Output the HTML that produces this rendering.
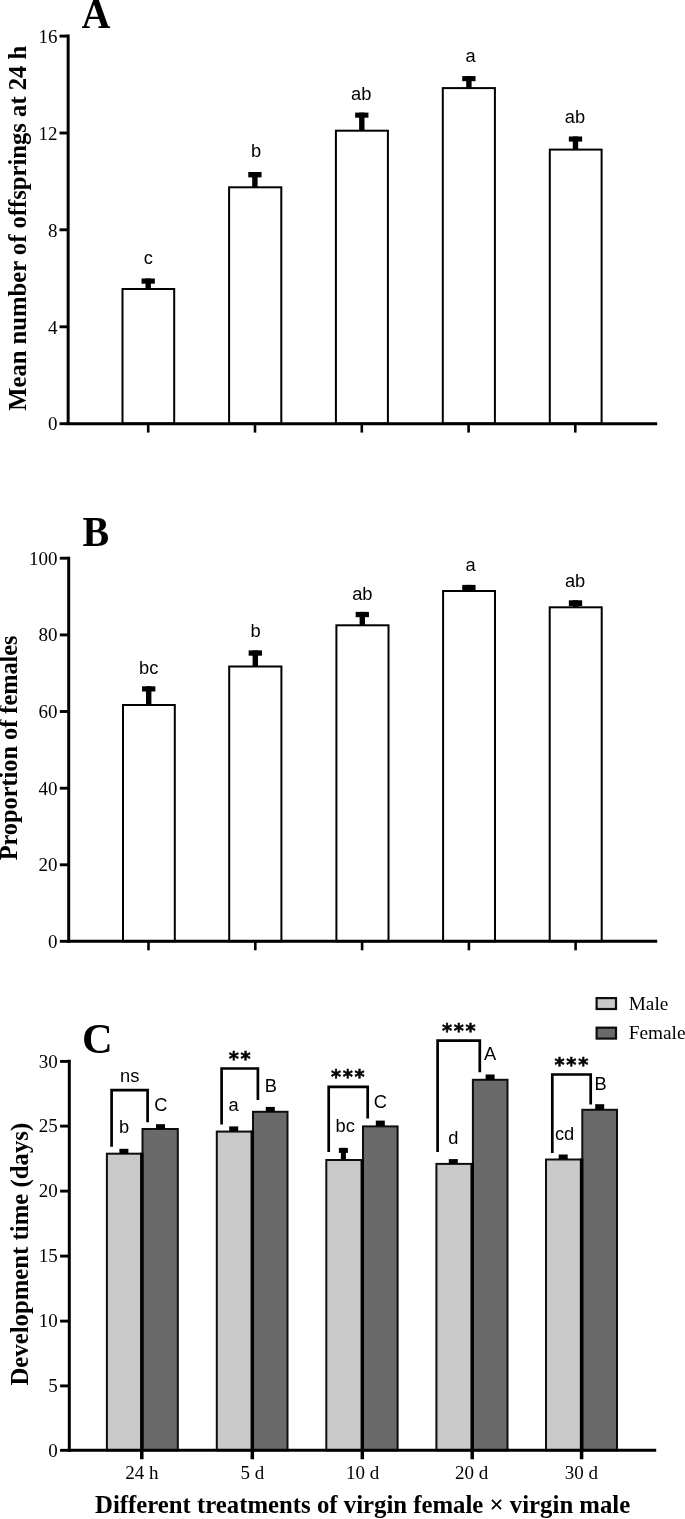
<!DOCTYPE html>
<html lang="en">
<head>
<meta charset="utf-8">
<title>Figure</title>
<style>
html,body{margin:0;padding:0;background:#fff;}
body{width:685px;height:1519px;overflow:hidden;}
svg{display:block;}
</style>
</head>
<body>
<svg width="685" height="1519" viewBox="0 0 685 1519">
<rect x="0" y="0" width="685" height="1519" fill="#ffffff"/>
<defs><filter id="soft" x="0" y="0" width="685" height="1519" filterUnits="userSpaceOnUse"><feGaussianBlur stdDeviation="0.4"/></filter></defs>
<g filter="url(#soft)">
<rect x="122.50" y="289.00" width="51.70" height="134.50" fill="#fff" stroke="#000" stroke-width="2"/>
<rect x="229.10" y="187.30" width="52.20" height="236.20" fill="#fff" stroke="#000" stroke-width="2"/>
<rect x="335.90" y="130.70" width="52.00" height="292.80" fill="#fff" stroke="#000" stroke-width="2"/>
<rect x="442.80" y="88.10" width="52.10" height="335.40" fill="#fff" stroke="#000" stroke-width="2"/>
<rect x="549.80" y="149.60" width="51.80" height="273.90" fill="#fff" stroke="#000" stroke-width="2"/>
<rect x="141.55" y="278.50" width="13.30" height="5.20" fill="#000"/>
<rect x="145.50" y="278.50" width="5.40" height="10.50" fill="#000"/>
<rect x="248.25" y="172.00" width="13.30" height="5.40" fill="#000"/>
<rect x="252.20" y="172.00" width="5.40" height="15.30" fill="#000"/>
<rect x="355.15" y="112.60" width="13.30" height="5.10" fill="#000"/>
<rect x="359.10" y="112.60" width="5.40" height="18.10" fill="#000"/>
<rect x="462.25" y="76.10" width="13.30" height="5.10" fill="#000"/>
<rect x="466.20" y="76.10" width="5.40" height="12.00" fill="#000"/>
<rect x="568.85" y="136.50" width="13.30" height="5.10" fill="#000"/>
<rect x="572.80" y="136.50" width="5.40" height="13.10" fill="#000"/>
<line x1="68.15" y1="34.6" x2="68.15" y2="425.0" stroke="#000" stroke-width="3.0"/>
<line x1="66.65" y1="423.7" x2="657.2" y2="423.7" stroke="#000" stroke-width="3.0"/>
<line x1="59.5" y1="36.1" x2="68.15" y2="36.1" stroke="#000" stroke-width="2.9"/>
<text x="57.4" y="42.800000000000004" font-family='"Liberation Serif", serif' font-size="19" font-weight="normal" text-anchor="end" >16</text>
<line x1="59.5" y1="133.0" x2="68.15" y2="133.0" stroke="#000" stroke-width="2.9"/>
<text x="57.4" y="139.7" font-family='"Liberation Serif", serif' font-size="19" font-weight="normal" text-anchor="end" >12</text>
<line x1="59.5" y1="229.8" x2="68.15" y2="229.8" stroke="#000" stroke-width="2.9"/>
<text x="57.4" y="236.5" font-family='"Liberation Serif", serif' font-size="19" font-weight="normal" text-anchor="end" >8</text>
<line x1="59.5" y1="326.8" x2="68.15" y2="326.8" stroke="#000" stroke-width="2.9"/>
<text x="57.4" y="333.5" font-family='"Liberation Serif", serif' font-size="19" font-weight="normal" text-anchor="end" >4</text>
<line x1="59.5" y1="423.7" x2="68.15" y2="423.7" stroke="#000" stroke-width="2.9"/>
<text x="57.4" y="430.0" font-family='"Liberation Serif", serif' font-size="19" font-weight="normal" text-anchor="end" >0</text>
<line x1="148.2" y1="423.5" x2="148.2" y2="432.6" stroke="#000" stroke-width="2.6"/>
<line x1="255.0" y1="423.5" x2="255.0" y2="432.6" stroke="#000" stroke-width="2.6"/>
<line x1="361.8" y1="423.5" x2="361.8" y2="432.6" stroke="#000" stroke-width="2.6"/>
<line x1="468.6" y1="423.5" x2="468.6" y2="432.6" stroke="#000" stroke-width="2.6"/>
<line x1="575.3" y1="423.5" x2="575.3" y2="432.6" stroke="#000" stroke-width="2.6"/>
<text x="148.2" y="264.0" font-family='"Liberation Sans", sans-serif' font-size="18.3" font-weight="normal" text-anchor="middle" >c</text>
<text x="256.0" y="157.0" font-family='"Liberation Sans", sans-serif' font-size="18.3" font-weight="normal" text-anchor="middle" >b</text>
<text x="361.2" y="99.5" font-family='"Liberation Sans", sans-serif' font-size="18.3" font-weight="normal" text-anchor="middle" >ab</text>
<text x="470.6" y="61.5" font-family='"Liberation Sans", sans-serif' font-size="18.3" font-weight="normal" text-anchor="middle" >a</text>
<text x="574.9" y="123.0" font-family='"Liberation Sans", sans-serif' font-size="18.3" font-weight="normal" text-anchor="middle" >ab</text>
<text transform="translate(81.5,27.7) scale(1,1.03)" font-family='"Liberation Serif", serif' font-size="40" font-weight="bold">A</text>
<text transform="translate(26.0,228.25) rotate(-90)" font-family='"Liberation Serif", serif' font-size="24.65" font-weight="bold" text-anchor="middle">Mean number of offsprings at 24 h</text>
<rect x="123.00" y="705.00" width="51.80" height="236.30" fill="#fff" stroke="#000" stroke-width="2"/>
<rect x="229.20" y="666.50" width="52.20" height="274.80" fill="#fff" stroke="#000" stroke-width="2"/>
<rect x="336.40" y="625.30" width="52.10" height="316.00" fill="#fff" stroke="#000" stroke-width="2"/>
<rect x="443.10" y="591.00" width="51.90" height="350.30" fill="#fff" stroke="#000" stroke-width="2"/>
<rect x="549.70" y="607.30" width="52.00" height="334.00" fill="#fff" stroke="#000" stroke-width="2"/>
<rect x="142.05" y="686.30" width="13.30" height="5.20" fill="#000"/>
<rect x="146.00" y="686.30" width="5.40" height="18.70" fill="#000"/>
<rect x="248.65" y="650.40" width="13.30" height="5.30" fill="#000"/>
<rect x="252.60" y="650.40" width="5.40" height="16.10" fill="#000"/>
<rect x="355.65" y="611.90" width="13.30" height="5.30" fill="#000"/>
<rect x="359.60" y="611.90" width="5.40" height="13.40" fill="#000"/>
<rect x="462.25" y="584.90" width="13.30" height="5.40" fill="#000"/>
<rect x="466.20" y="584.90" width="5.40" height="6.10" fill="#000"/>
<rect x="568.85" y="600.30" width="13.30" height="5.70" fill="#000"/>
<rect x="572.80" y="600.30" width="5.40" height="7.00" fill="#000"/>
<line x1="68.7" y1="556.8000000000001" x2="68.7" y2="942.8" stroke="#000" stroke-width="3.0"/>
<line x1="67.2" y1="941.3" x2="657.2" y2="941.3" stroke="#000" stroke-width="3.0"/>
<line x1="59.8" y1="558.2" x2="68.7" y2="558.2" stroke="#000" stroke-width="2.9"/>
<text x="57.6" y="564.5" font-family='"Liberation Serif", serif' font-size="19" font-weight="normal" text-anchor="end" >100</text>
<line x1="59.8" y1="634.9" x2="68.7" y2="634.9" stroke="#000" stroke-width="2.9"/>
<text x="57.6" y="641.1999999999999" font-family='"Liberation Serif", serif' font-size="19" font-weight="normal" text-anchor="end" >80</text>
<line x1="59.8" y1="711.5" x2="68.7" y2="711.5" stroke="#000" stroke-width="2.9"/>
<text x="57.6" y="717.8" font-family='"Liberation Serif", serif' font-size="19" font-weight="normal" text-anchor="end" >60</text>
<line x1="59.8" y1="788.2" x2="68.7" y2="788.2" stroke="#000" stroke-width="2.9"/>
<text x="57.6" y="794.5" font-family='"Liberation Serif", serif' font-size="19" font-weight="normal" text-anchor="end" >40</text>
<line x1="59.8" y1="864.8" x2="68.7" y2="864.8" stroke="#000" stroke-width="2.9"/>
<text x="57.6" y="871.0999999999999" font-family='"Liberation Serif", serif' font-size="19" font-weight="normal" text-anchor="end" >20</text>
<line x1="59.8" y1="941.3" x2="68.7" y2="941.3" stroke="#000" stroke-width="2.9"/>
<text x="57.6" y="947.5999999999999" font-family='"Liberation Serif", serif' font-size="19" font-weight="normal" text-anchor="end" >0</text>
<line x1="148.5" y1="941.3" x2="148.5" y2="950.3" stroke="#000" stroke-width="2.6"/>
<line x1="255.3" y1="941.3" x2="255.3" y2="950.3" stroke="#000" stroke-width="2.6"/>
<line x1="362.1" y1="941.3" x2="362.1" y2="950.3" stroke="#000" stroke-width="2.6"/>
<line x1="468.90000000000003" y1="941.3" x2="468.90000000000003" y2="950.3" stroke="#000" stroke-width="2.6"/>
<line x1="575.5999999999999" y1="941.3" x2="575.5999999999999" y2="950.3" stroke="#000" stroke-width="2.6"/>
<text x="148.7" y="674.0" font-family='"Liberation Sans", sans-serif' font-size="18.3" font-weight="normal" text-anchor="middle" >bc</text>
<text x="255.6" y="636.7" font-family='"Liberation Sans", sans-serif' font-size="18.3" font-weight="normal" text-anchor="middle" >b</text>
<text x="362.3" y="600.3" font-family='"Liberation Sans", sans-serif' font-size="18.3" font-weight="normal" text-anchor="middle" >ab</text>
<text x="470.5" y="570.6" font-family='"Liberation Sans", sans-serif' font-size="18.3" font-weight="normal" text-anchor="middle" >a</text>
<text x="575.1" y="587.2" font-family='"Liberation Sans", sans-serif' font-size="18.3" font-weight="normal" text-anchor="middle" >ab</text>
<text transform="translate(82.6,546.2) scale(1,1.035)" font-family='"Liberation Serif", serif' font-size="40" font-weight="bold">B</text>
<text transform="translate(17.1,747.9) rotate(-90)" font-family='"Liberation Serif", serif' font-size="24.3" font-weight="bold" text-anchor="middle">Proportion of females</text>
<rect x="106.90" y="1153.70" width="35.10" height="296.60" fill="#c9c9c9" stroke="#111" stroke-width="2"/>
<rect x="142.50" y="1129.00" width="35.30" height="321.30" fill="#6b6b6b" stroke="#111" stroke-width="2"/>
<line x1="141.8" y1="1152.7" x2="141.8" y2="1459.3" stroke="#000" stroke-width="3.5"/>
<rect x="216.80" y="1131.60" width="35.70" height="318.70" fill="#c9c9c9" stroke="#111" stroke-width="2"/>
<rect x="253.00" y="1111.80" width="34.50" height="338.50" fill="#6b6b6b" stroke="#111" stroke-width="2"/>
<line x1="252.3" y1="1130.6" x2="252.3" y2="1459.3" stroke="#000" stroke-width="3.5"/>
<rect x="326.30" y="1160.00" width="36.20" height="290.30" fill="#c9c9c9" stroke="#111" stroke-width="2"/>
<rect x="363.00" y="1126.40" width="34.60" height="323.90" fill="#6b6b6b" stroke="#111" stroke-width="2"/>
<line x1="362.3" y1="1159.0" x2="362.3" y2="1459.3" stroke="#000" stroke-width="3.5"/>
<rect x="436.40" y="1163.90" width="36.00" height="286.40" fill="#c9c9c9" stroke="#111" stroke-width="2"/>
<rect x="472.90" y="1079.80" width="34.60" height="370.50" fill="#6b6b6b" stroke="#111" stroke-width="2"/>
<line x1="472.2" y1="1162.9" x2="472.2" y2="1459.3" stroke="#000" stroke-width="3.5"/>
<rect x="546.00" y="1159.50" width="35.80" height="290.80" fill="#c9c9c9" stroke="#111" stroke-width="2"/>
<rect x="582.30" y="1109.80" width="34.70" height="340.50" fill="#6b6b6b" stroke="#111" stroke-width="2"/>
<line x1="581.5999999999999" y1="1158.5" x2="581.5999999999999" y2="1459.3" stroke="#000" stroke-width="3.5"/>
<rect x="119.40" y="1148.80" width="9.00" height="5.10" fill="#000"/>
<rect x="156.00" y="1124.20" width="9.00" height="4.90" fill="#000"/>
<rect x="229.20" y="1126.40" width="9.00" height="5.10" fill="#000"/>
<rect x="265.80" y="1106.90" width="9.00" height="5.10" fill="#000"/>
<rect x="338.90" y="1147.90" width="9.00" height="5.00" fill="#000"/>
<rect x="340.90" y="1147.90" width="5.00" height="11.60" fill="#000"/>
<rect x="375.80" y="1120.60" width="9.00" height="5.90" fill="#000"/>
<rect x="448.80" y="1159.10" width="9.00" height="4.90" fill="#000"/>
<rect x="485.60" y="1074.50" width="9.00" height="5.50" fill="#000"/>
<rect x="558.70" y="1154.50" width="9.00" height="5.00" fill="#000"/>
<rect x="595.20" y="1104.20" width="9.00" height="5.80" fill="#000"/>
<line x1="69.3" y1="1059.8" x2="69.3" y2="1451.8" stroke="#000" stroke-width="3.0"/>
<line x1="67.8" y1="1450.3" x2="656.2" y2="1450.3" stroke="#000" stroke-width="3.0"/>
<line x1="60.1" y1="1061.4" x2="69.3" y2="1061.4" stroke="#000" stroke-width="2.9"/>
<text x="57.8" y="1067.7" font-family='"Liberation Serif", serif' font-size="19" font-weight="normal" text-anchor="end" >30</text>
<line x1="60.1" y1="1126.1" x2="69.3" y2="1126.1" stroke="#000" stroke-width="2.9"/>
<text x="57.8" y="1132.3999999999999" font-family='"Liberation Serif", serif' font-size="19" font-weight="normal" text-anchor="end" >25</text>
<line x1="60.1" y1="1191.1" x2="69.3" y2="1191.1" stroke="#000" stroke-width="2.9"/>
<text x="57.8" y="1197.3999999999999" font-family='"Liberation Serif", serif' font-size="19" font-weight="normal" text-anchor="end" >20</text>
<line x1="60.1" y1="1256.1" x2="69.3" y2="1256.1" stroke="#000" stroke-width="2.9"/>
<text x="57.8" y="1262.3999999999999" font-family='"Liberation Serif", serif' font-size="19" font-weight="normal" text-anchor="end" >15</text>
<line x1="60.1" y1="1321.1" x2="69.3" y2="1321.1" stroke="#000" stroke-width="2.9"/>
<text x="57.8" y="1327.3999999999999" font-family='"Liberation Serif", serif' font-size="19" font-weight="normal" text-anchor="end" >10</text>
<line x1="60.1" y1="1385.9" x2="69.3" y2="1385.9" stroke="#000" stroke-width="2.9"/>
<text x="57.8" y="1392.2" font-family='"Liberation Serif", serif' font-size="19" font-weight="normal" text-anchor="end" >5</text>
<line x1="60.1" y1="1450.3" x2="69.3" y2="1450.3" stroke="#000" stroke-width="2.9"/>
<text x="57.8" y="1456.6" font-family='"Liberation Serif", serif' font-size="19" font-weight="normal" text-anchor="end" >0</text>
<path d="M111.6,1146.7 L111.6,1090.2 L147.6,1090.2 L147.6,1122.3" fill="none" stroke="#000" stroke-width="2.7" stroke-linejoin="miter"/>
<path d="M221.6,1124.4 L221.6,1068.5 L257.9,1068.5 L257.9,1099.9" fill="none" stroke="#000" stroke-width="2.7" stroke-linejoin="miter"/>
<path d="M328.7,1152.0 L328.7,1086.9 L367.7,1086.9 L367.7,1118.4" fill="none" stroke="#000" stroke-width="2.7" stroke-linejoin="miter"/>
<path d="M437.6,1152.1 L437.6,1040.6 L479.8,1040.6 L479.8,1072.2" fill="none" stroke="#000" stroke-width="2.7" stroke-linejoin="miter"/>
<path d="M552.3,1153.0 L552.3,1074.5 L590.7,1074.5 L590.7,1104.4" fill="none" stroke="#000" stroke-width="2.7" stroke-linejoin="miter"/>
<text x="129.7" y="1081.5" font-family='"Liberation Sans", sans-serif' font-size="18.3" font-weight="normal" text-anchor="middle" >ns</text>
<text x="239.85" y="1064.95" font-family='"DejaVu Sans Mono", "Liberation Mono", monospace' font-size="19.3" font-weight="bold" text-anchor="middle" stroke="#000" stroke-width="0.55" letter-spacing="0.18">**</text>
<text x="347.9" y="1083.2" font-family='"DejaVu Sans Mono", "Liberation Mono", monospace' font-size="19.3" font-weight="bold" text-anchor="middle" stroke="#000" stroke-width="0.55" letter-spacing="0.18">***</text>
<text x="458.9" y="1037.15" font-family='"DejaVu Sans Mono", "Liberation Mono", monospace' font-size="19.3" font-weight="bold" text-anchor="middle" stroke="#000" stroke-width="0.55" letter-spacing="0.18">***</text>
<text x="571.5" y="1070.75" font-family='"DejaVu Sans Mono", "Liberation Mono", monospace' font-size="19.3" font-weight="bold" text-anchor="middle" stroke="#000" stroke-width="0.55" letter-spacing="0.18">***</text>
<text x="124.2" y="1133.2" font-family='"Liberation Sans", sans-serif' font-size="18.3" font-weight="normal" text-anchor="middle" >b</text>
<text x="160.8" y="1110.6" font-family='"Liberation Sans", sans-serif' font-size="18.3" font-weight="normal" text-anchor="middle" >C</text>
<text x="233.5" y="1111.0" font-family='"Liberation Sans", sans-serif' font-size="18.3" font-weight="normal" text-anchor="middle" >a</text>
<text x="270.8" y="1092.0" font-family='"Liberation Sans", sans-serif' font-size="18.3" font-weight="normal" text-anchor="middle" >B</text>
<text x="345.2" y="1131.6" font-family='"Liberation Sans", sans-serif' font-size="18.3" font-weight="normal" text-anchor="middle" >bc</text>
<text x="380.4" y="1107.5" font-family='"Liberation Sans", sans-serif' font-size="18.3" font-weight="normal" text-anchor="middle" >C</text>
<text x="453.3" y="1144.0" font-family='"Liberation Sans", sans-serif' font-size="18.3" font-weight="normal" text-anchor="middle" >d</text>
<text x="490.0" y="1060.1" font-family='"Liberation Sans", sans-serif' font-size="18.3" font-weight="normal" text-anchor="middle" >A</text>
<text x="564.6" y="1139.8" font-family='"Liberation Sans", sans-serif' font-size="18.3" font-weight="normal" text-anchor="middle" >cd</text>
<text x="600.6" y="1089.9" font-family='"Liberation Sans", sans-serif' font-size="18.3" font-weight="normal" text-anchor="middle" >B</text>
<text x="141.9" y="1478.6" font-family='"Liberation Serif", serif' font-size="19" font-weight="normal" text-anchor="middle" >24 h</text>
<text x="252.4" y="1478.6" font-family='"Liberation Serif", serif' font-size="19" font-weight="normal" text-anchor="middle" >5 d</text>
<text x="362.7" y="1478.6" font-family='"Liberation Serif", serif' font-size="19" font-weight="normal" text-anchor="middle" >10 d</text>
<text x="471.5" y="1478.6" font-family='"Liberation Serif", serif' font-size="19" font-weight="normal" text-anchor="middle" >20 d</text>
<text x="581.4" y="1478.6" font-family='"Liberation Serif", serif' font-size="19" font-weight="normal" text-anchor="middle" >30 d</text>
<text x="82.0" y="1052.6" font-family='"Liberation Serif", serif' font-size="42.5" font-weight="bold" text-anchor="start" >C</text>
<text transform="translate(27.6,1254.2) rotate(-90)" font-family='"Liberation Serif", serif' font-size="24.77" font-weight="bold" text-anchor="middle">Development time (days)</text>
<text x="362.65" y="1513.2" font-family='"Liberation Serif", serif' font-size="24.77" font-weight="bold" text-anchor="middle" >Different treatments of virgin female × virgin male</text>
<rect x="596.60" y="998.10" width="19.40" height="10.90" fill="#c9c9c9" stroke="#111" stroke-width="2.2"/>
<rect x="596.60" y="1027.70" width="19.40" height="10.90" fill="#6b6b6b" stroke="#111" stroke-width="2.2"/>
<text x="628.7" y="1009.7" font-family='"Liberation Serif", serif' font-size="19.3" font-weight="normal" text-anchor="start" >Male</text>
<text x="628.7" y="1039.2" font-family='"Liberation Serif", serif' font-size="19.3" font-weight="normal" text-anchor="start" >Female</text>
</g>
</svg>
</body>
</html>
